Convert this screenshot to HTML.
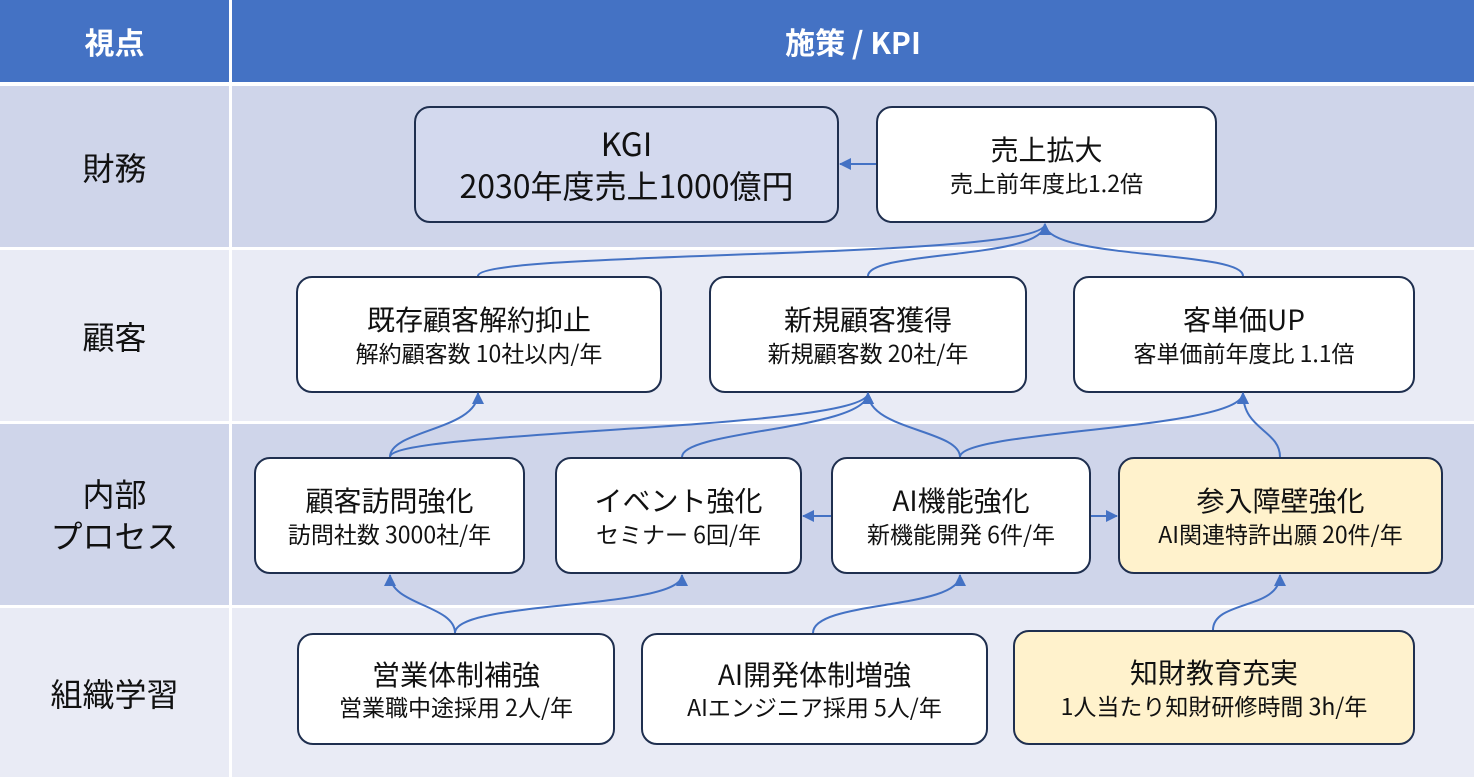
<!DOCTYPE html>
<html><head><meta charset="utf-8"><style>
body{margin:0;width:1474px;height:777px;position:relative;background:#fff;font-family:"Noto Sans CJK JP","Liberation Sans",sans-serif;overflow:hidden}
.a{position:absolute}
.h{background:#4472C4;color:#fff;font-weight:bold;font-size:30px;display:flex;align-items:center;justify-content:center}
.r{display:flex;align-items:center;justify-content:center;font-size:32px;color:#111}
.d{background:#CFD5EA}.l{background:#E9EBF5}
.b{position:absolute;box-sizing:border-box;border:2px solid #1F2F4F;border-radius:16px;background:#fff;display:flex;flex-direction:column;align-items:center;justify-content:center;color:#111;text-align:center;line-height:1.3}
.b .t{font-size:28px}.b .s{font-size:23px}
.y{background:#FFF2CC}
</style></head><body>
<div class="a h" style="left:0;top:0;width:229px;height:82px">視点</div>
<div class="a h" style="left:232px;top:0;width:1242px;height:82px">施策 / KPI</div>
<div class="a d r" style="left:0;top:86px;width:229px;height:161px">財務</div>
<div class="a d" style="left:232px;top:86px;width:1242px;height:161px"></div>
<div class="a l r" style="left:0;top:250px;width:229px;height:171px">顧客</div>
<div class="a l" style="left:232px;top:250px;width:1242px;height:171px"></div>
<div class="a d r" style="left:0;top:424px;width:229px;height:181px;line-height:1.3;text-align:center">内部<br>プロセス</div>
<div class="a d" style="left:232px;top:424px;width:1242px;height:181px"></div>
<div class="a l r" style="left:0;top:608px;width:229px;height:169px">組織学習</div>
<div class="a l" style="left:232px;top:608px;width:1242px;height:169px"></div>

<div class="b" style="left:414px;top:106px;width:425px;height:117px;background:#D3D9EE"><div style="font-size:32px">KGI</div><div style="font-size:32px">2030年度売上1000億円</div></div>
<div class="b" style="left:876px;top:106px;width:341px;height:117px"><div class="t">売上拡大</div><div class="s">売上前年度比1.2倍</div></div>
<div class="b" style="left:296px;top:276px;width:366px;height:117px"><div class="t">既存顧客解約抑止</div><div class="s">解約顧客数 10社以内/年</div></div>
<div class="b" style="left:709px;top:276px;width:318px;height:117px"><div class="t">新規顧客獲得</div><div class="s">新規顧客数 20社/年</div></div>
<div class="b" style="left:1073px;top:276px;width:342px;height:117px"><div class="t">客単価UP</div><div class="s">客単価前年度比 1.1倍</div></div>
<div class="b" style="left:254px;top:457px;width:271px;height:117px"><div class="t">顧客訪問強化</div><div class="s">訪問社数 3000社/年</div></div>
<div class="b" style="left:555px;top:457px;width:247px;height:117px"><div class="t">イベント強化</div><div class="s">セミナー 6回/年</div></div>
<div class="b" style="left:831px;top:457px;width:260px;height:117px"><div class="t">AI機能強化</div><div class="s">新機能開発 6件/年</div></div>
<div class="b y" style="left:1118px;top:457px;width:325px;height:117px"><div class="t">参入障壁強化</div><div class="s">AI関連特許出願 20件/年</div></div>
<div class="b" style="left:297px;top:633px;width:318px;height:112px"><div class="t">営業体制補強</div><div class="s">営業職中途採用 2人/年</div></div>
<div class="b" style="left:641px;top:633px;width:347px;height:112px"><div class="t">AI開発体制増強</div><div class="s">AIエンジニア採用 5人/年</div></div>
<div class="b y" style="left:1013px;top:630px;width:402px;height:115px"><div class="t">知財教育充実</div><div class="s">1人当たり知財研修時間 3h/年</div></div>

<svg class="a" style="left:0;top:0" width="1474" height="777">
<defs><marker id="m" markerWidth="12" markerHeight="12" refX="11" refY="6" orient="auto" markerUnits="userSpaceOnUse"><path d="M0,0 L12,6 L0,12 z" fill="#4472C4"/></marker></defs>
<g fill="none" stroke="#4472C4" stroke-width="2" marker-end="url(#m)">
<path d="M876,164 L840,164"/>
<path d="M478,276 C478,250 1045,260 1045,224"/>
<path d="M868,276 C868,250 1045,260 1045,224"/>
<path d="M1243,276 C1243,250 1045,260 1045,224"/>
<path d="M390,457 C390,430 478,430 478,393"/>
<path d="M390,457 C390,430 868,430 868,393"/>
<path d="M682,457 C682,430 868,430 868,393"/>
<path d="M960,457 C960,430 868,430 868,393"/>
<path d="M960,457 C960,430 1243,430 1243,393"/>
<path d="M1280,457 C1280,430 1243,430 1243,393"/>
<path d="M831,516 L803,516"/>
<path d="M1091,516 L1117,516"/>
<path d="M455,633 C455,605 390,605 390,575"/>
<path d="M455,633 C455,600 682,610 682,575"/>
<path d="M813,633 C813,600 960,610 960,575"/>
<path d="M1213,630 C1213,600 1280,610 1280,575"/>
</g></svg>
</body></html>
